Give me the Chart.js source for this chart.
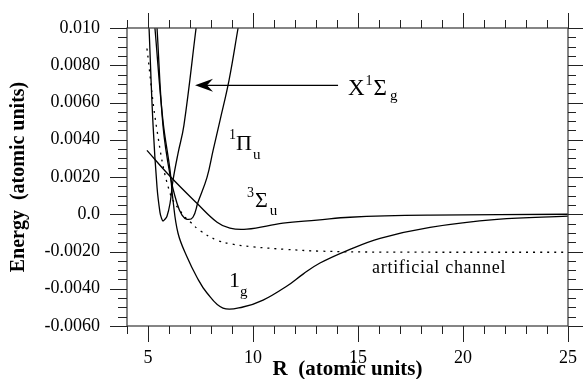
<!DOCTYPE html>
<html>
<head>
<meta charset="utf-8">
<script src="https://cdn.jsdelivr.net/npm/chart.js@4.4.1/dist/chart.umd.min.js"></script>
<style>
  html, body { margin: 0; padding: 0; background: #fff; }
</style>
</head>
<body>
<canvas id="potChart" width="583" height="379"></canvas>
<script>
"use strict"

// axis ticks
const xTickValues = [5, 10, 15, 20, 25];
const yTickValues = [-0.006, -0.004, -0.002, 0, 0.002, 0.004, 0.006, 0.008, 0.010];
const yTickLabels = ["-0.0060", "-0.0040", "-0.0020", "0.0", "0.0020", "0.0040", "0.0060", "0.0080", "0.010"];

// X1Σg  (R, energy)
const sigmaGR = [5.05, 5.24, 5.43, 5.57, 5.64, 5.71, 5.78, 5.90, 6.05, 6.19, 6.43, 6.71, 7.29];
const sigmaGE = [0.0100, 0.0048, 0.00145, 0.0001, -0.0002, -0.00036, -0.0003, -0.00012, 0.00059, 0.00182, 0.00327, 0.00477, 0.0100];

// 1Πu
const piUR = [5.43, 5.71, 6.05, 6.38, 6.62, 6.86, 7.14, 7.38, 7.81, 8.10, 8.43, 8.86, 9.29];
const piUE = [0.0100, 0.0048, 0.0021, 0.00059, -0.00005, -0.00027, -0.00016, 0.00064, 0.00198, 0.00343, 0.00504, 0.0072, 0.0100];

// 3Σu
const sigmaUR = [4.95, 6.05, 7.33, 8.29, 8.90, 9.71, 11.43, 13.05, 14.62, 18.43, 25.0];
const sigmaUE = [0.00343, 0.00204, 0.00059, -0.00043, -0.00075, -0.00080, -0.00048, -0.00032, -0.00016, -0.00005, 0.0];

// 1g
const oneGR = [5.33, 5.71, 6.05, 6.19, 6.43, 6.86, 7.33, 7.81, 8.57, 9.52, 10.48, 11.62, 12.4, 13.19, 14.48, 16.05, 18.43, 21.62, 25.0];
const oneGE = [0.0100, 0.00504, 0.00236, 0.00075, -0.00102, -0.0023, -0.00338, -0.00423, -0.00504, -0.00498, -0.00461, -0.00385, -0.0032, -0.00262, -0.00195, -0.00129, -0.0007, -0.00027, -0.0001];

// artificial channel (dotted)
const artR = [4.95, 5.43, 6.05, 6.65, 7.0, 7.48, 8.3, 9.0, 10.0, 11.5, 13.2, 16.0, 25.0];
const artE = [0.0089, 0.0045, 0.00113, 0.0, -0.0004, -0.00088, -0.0014, -0.0016, -0.00175, -0.00188, -0.00198, -0.00203, -0.00204];

const chartEl = document.getElementById("potChart");
const serif = "'Liberation Serif', 'Times New Roman', serif";

function toPoints(rs, es) {
    return rs.map((r, i) => ({ x: r, y: es[i] }));
}

function curve(rs, es, dashed) {
    return {
        data: toPoints(rs, es),
        borderColor: "#000",
        borderWidth: 1.3,
        borderDash: dashed ? [2, 5] : [],
        pointRadius: 0,
        tension: 0.4,
        fill: false
    };
}

// writes text pieces with sub/superscripts, each piece {t, size, dy}
function drawPieces(ctx, x, y, pieces) {
    pieces.forEach(p => {
        ctx.font = p.size + "px " + serif;
        ctx.fillText(p.t, x + (p.dx || 0), y + (p.dy || 0));
        x += ctx.measureText(p.t).width + (p.dx || 0);
    });
}

/**
 * Draws the frame, all the tick marks, the curve labels and the arrow.
 */
const decorPlugin = {
    id: "decor",
    afterDraw(chart) {
        const ctx = chart.ctx;
        const area = chart.chartArea;
        const xs = chart.scales.x;
        const ys = chart.scales.y;

        ctx.save();
        ctx.strokeStyle = "#444";
        ctx.lineWidth = 1.3;
        ctx.strokeRect(area.left, area.top, area.right - area.left, area.bottom - area.top);

        ctx.strokeStyle = "#222";
        ctx.lineWidth = 1;
        ctx.beginPath();
        // x ticks every 1 unit, long ones every 5
        const nx = Math.round(xs.max - xs.min);
        for (let i = 0; i <= nx; i++) {
            const v = xs.min + i;
            const px = Math.round(xs.getPixelForValue(v)) + 0.5;
            const major = v % 5 === 0;
            ctx.moveTo(px, area.bottom);
            ctx.lineTo(px, area.bottom + (major ? 16 : 8));
            ctx.moveTo(px, area.top);
            ctx.lineTo(px, area.top - (major ? 15 : 8));
        }
        // y ticks every 0.0005, long ones every 0.002
        const ny = Math.round((ys.max - ys.min) / 0.0005);
        for (let i = 0; i <= ny; i++) {
            const py = Math.round(ys.getPixelForValue(ys.min + i * 0.0005)) + 0.5;
            const major = i % 4 === 0;
            ctx.moveTo(area.left, py);
            ctx.lineTo(area.left - (major ? 17 : 9), py);
            ctx.moveTo(area.right, py);
            ctx.lineTo(area.right + (major ? 15 : 8), py);
        }
        ctx.stroke();

        // arrow pointing at X1Σg
        const tipX = xs.getPixelForValue(7.24);
        const tailX = xs.getPixelForValue(14.05);
        const ay = ys.getPixelForValue(0.00692);
        ctx.strokeStyle = "#000";
        ctx.lineWidth = 1.2;
        ctx.beginPath();
        ctx.moveTo(tipX + 12, ay);
        ctx.lineTo(tailX, ay);
        ctx.stroke();
        ctx.fillStyle = "#000";
        ctx.beginPath();
        ctx.moveTo(tipX, ay);
        ctx.lineTo(tipX + 18, ay - 6.5);
        ctx.lineTo(tipX + 12, ay);
        ctx.lineTo(tipX + 18, ay + 6.5);
        ctx.closePath();
        ctx.fill();

        // curve labels
        ctx.textAlign = "left";
        ctx.textBaseline = "alphabetic";
        drawPieces(ctx, xs.getPixelForValue(14.52), ys.getPixelForValue(0.00638), [
            { t: "X", size: 23 },
            { t: "1", size: 14, dy: -10, dx: 1 },
            { t: "\u03A3", size: 23, dx: 1 },
            { t: "g", size: 15, dy: 5, dx: 3 }
        ]);
        drawPieces(ctx, xs.getPixelForValue(8.86), ys.getPixelForValue(0.00402), [
            { t: "1", size: 14 },
            { t: "\u03A0", size: 22, dy: 11, dx: 0 },
            { t: "u", size: 15, dy: 20, dx: 1 }
        ]);
        drawPieces(ctx, xs.getPixelForValue(9.71), ys.getPixelForValue(0.00091), [
            { t: "3", size: 14 },
            { t: "\u03A3", size: 22, dy: 10, dx: 1 },
            { t: "u", size: 15, dy: 18, dx: 2 }
        ]);
        drawPieces(ctx, xs.getPixelForValue(8.86), ys.getPixelForValue(-0.00391), [
            { t: "1", size: 22 },
            { t: "g", size: 15, dy: 9, dx: 0 }
        ]);
        ctx.font = "18px " + serif;
        ctx.letterSpacing = "0.7px";
        ctx.fillText("artificial channel", xs.getPixelForValue(15.67), ys.getPixelForValue(-0.00316));
        ctx.restore();
    }
};

new Chart(chartEl, {
    type: "line",
    data: {
        datasets: [
            curve(sigmaGR, sigmaGE, false),
            curve(piUR, piUE, false),
            curve(sigmaUR, sigmaUE, false),
            curve(oneGR, oneGE, false),
            curve(artR, artE, true)
        ]
    },
    options: {
        responsive: false,
        animation: false,
        devicePixelRatio: 1,
        layout: { padding: { top: 28, right: 15, left: 0, bottom: 0 } },
        plugins: {
            legend: { display: false },
            tooltip: { enabled: false }
        },
        scales: {
            x: {
                type: "linear",
                min: 4,
                max: 25,
                grid: { display: false, drawTicks: false },
                border: { display: false },
                afterBuildTicks: scale => { scale.ticks = xTickValues.map(v => ({ value: v })); },
                afterFit: scale => {
                    scale.height = 53;
                    scale.paddingLeft = 0;
                    scale.paddingRight = 0;
                },
                ticks: {
                    color: "#000",
                    padding: 21,
                    maxRotation: 0,
                    font: { family: serif, size: 18 }
                },
                title: {
                    display: true,
                    text: "R  (atomic units)",
                    color: "#000",
                    padding: { top: 0, bottom: -1 },
                    font: { family: serif, size: 21, weight: "bold", lineHeight: 1 }
                }
            },
            y: {
                type: "linear",
                min: -0.006,
                max: 0.010,
                grid: { display: false, drawTicks: false },
                border: { display: false },
                afterBuildTicks: scale => { scale.ticks = yTickValues.map(v => ({ value: v })); },
                afterFit: scale => {
                    scale.width = 127;
                    scale.paddingTop = 0;
                    scale.paddingBottom = 0;
                },
                ticks: {
                    color: "#000",
                    padding: 27,
                    font: { family: serif, size: 18 },
                    callback: (value, index) => yTickLabels[index]
                },
                title: {
                    display: true,
                    text: "Energy  (atomic units)",
                    color: "#000",
                    padding: { top: 9, bottom: 0 },
                    font: { family: serif, size: 20, weight: "bold", lineHeight: 1 }
                }
            }
        }
    },
    plugins: [decorPlugin]
});
</script>
</body>
</html>
